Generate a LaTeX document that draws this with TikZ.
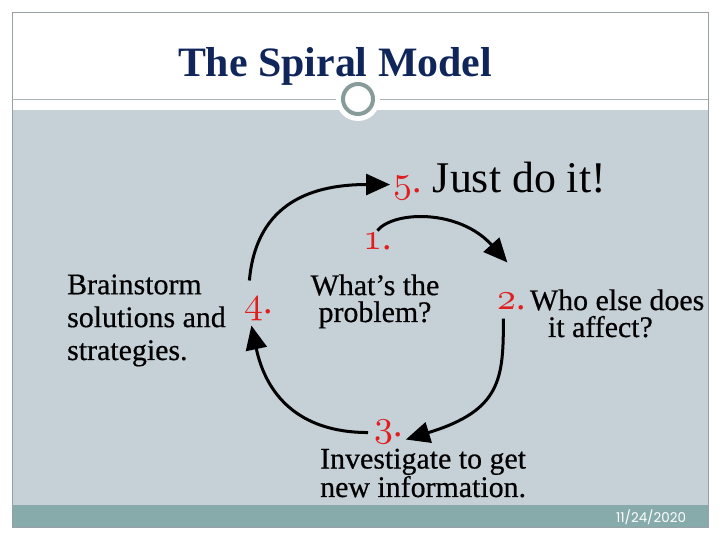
\documentclass[tikz,border=0pt]{standalone}
\usepackage{fontspec}
\usetikzlibrary{arrows.meta, positioning}
\setmainfont{Liberation Serif}
\newfontfamily\bodyfont{Liberation Serif}[FakeBold=0.5]
\newfontfamily\datefont{Poppins}
\DeclareFontFamily{OML}{osdigits}{}
\DeclareFontShape{OML}{osdigits}{m}{it}{<->cmmi10}{}
\newcommand\osnum[1]{{\usefont{OML}{osdigits}{m}{it}#1}.}
\definecolor{slidegray}{RGB}{198,208,215}
\definecolor{barteal}{RGB}{135,170,170}
\definecolor{framegray}{RGB}{150,160,165}
\definecolor{titleblue}{RGB}{16,38,90}
\definecolor{ringgray}{RGB}{135,155,155}
\definecolor{stepred}{RGB}{225,30,30}

\begin{document}
\begin{tikzpicture}[x=1bp, y=1bp,
  num/.style={text=stepred, inner sep=1bp, anchor=base west, font=\fontsize{38}{38}\selectfont},
  desc/.style={align=left, inner sep=0pt, font=\bodyfont\fontsize{30}{#1}\selectfont},
  desc/.default=27,
  flow/.style={line width=3bp, -{Triangle[length=24bp, width=21bp]}}]
  \useasboundingbox (0,0) rectangle (720,540);
  \fill[slidegray] (12,35) rectangle (708,430);
  \fill[barteal] (12,13) rectangle (708,35);
  \draw[framegray] (12,13) rectangle (708,528);
  \draw[framegray!80] (12,441) -- (708,441);
  \fill[white] (358,441) circle [radius=22];
  \draw[ringgray, line width=4bp] (358,441) circle [radius=15];
  \node[text=titleblue, anchor=base, font=\bfseries\fontsize{42}{42}\selectfont] (title) at (335,463) {The Spiral Model};

  \node[num] (one) at (362,290) {\osnum{1}};
  \node[num] (two) at (496,230) {\osnum{2}};
  \node[num] (three) at (373,103) {\osnum{3}};
  \node[num] (four) at (243,226) {\osnum{4}};
  \node[num] (five) at (392,347) {\osnum{5}};

  \node[base right=9bp of five, inner sep=1bp, font=\fontsize{44}{44}\selectfont] (justdo) {Just do it!};
  \node[desc=33, anchor=base west] (brain) at (67,180) {Brainstorm\\solutions and\\strategies.};
  \node[desc, align=center, anchor=base] (problem) at (375,218) {What’s the\\problem?};
  \node[desc, base right=3bp of two, yshift=-27bp] (who) {Who else does\\\hspace{18bp}it affect?};
  \node[desc=24, anchor=base west] (invest) at (320,43) {Investigate to get\\new information.};
  \node[text=white, font=\datefont\fontsize{13.5}{14}\selectfont] (date) at (651,23) {11/24/2020};

  \draw[flow] ([yshift=2bp]one.north) to[out=50, in=132, out distance=26bp, in distance=72bp] ([xshift=-4bp, yshift=30bp]two.north);
  \draw[flow] ([xshift=-8bp, yshift=-7bp]two.south) to[out=-90, in=17, out distance=60bp, in distance=100bp] ([xshift=2bp, yshift=-7bp]three.east);
  \draw[flow] ([xshift=-5bp]three.west) to[out=180, in=-78, out distance=70bp, in distance=70bp] ([xshift=-7bp, yshift=-3bp]four.south);
  \draw[flow] ([xshift=-9bp, yshift=16bp]four.north) to[out=85, in=180, out distance=80bp, in distance=75bp] ([xshift=-2bp, yshift=4bp]five.west);
\end{tikzpicture}
\end{document}
